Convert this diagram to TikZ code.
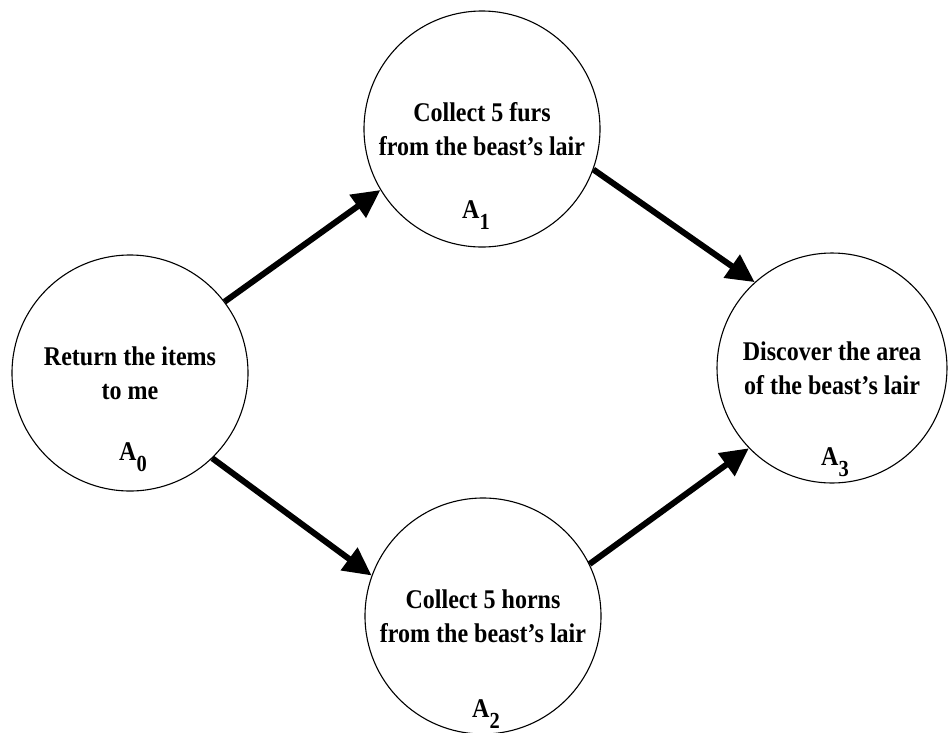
\documentclass[tikz,border=0pt]{standalone}
\usepackage{fontspec}
\setmainfont{Liberation Serif}[FakeStretch=0.89]
\usetikzlibrary{arrows.meta}

\tikzset{
  quest/.style={draw, circle, line width=1.1pt, minimum size=236pt,
    inner sep=2pt, align=center,
    font=\fontsize{27}{34}\selectfont\bfseries},
  tag/.style={anchor=base, inner sep=0pt,
    font=\fontsize{27}{27}\selectfont\bfseries},
  dep/.style={-{Triangle[length=28pt,width=27pt]}, line width=6pt}
}
% lowered index digit of a quest tag
\newcommand{\qidx}[1]{\raisebox{-11pt}{\fontsize{23}{23}\selectfont #1}}

\begin{document}
\begin{tikzpicture}[x=1pt,y=-1pt] % y down, one unit = one pixel
  \useasboundingbox (0,0) rectangle (948,732);

  % the four quests
  \node[quest] (a0) at (130,373) {Return the items\\to me};
  \node[quest] (a1) at (482,129) {Collect 5 furs\\from the beast’s lair};
  \node[quest] (a2) at (483,616) {Collect 5 horns\\from the beast’s lair};
  \node[quest, minimum size=230pt] (a3) at (832,368)
    {Discover the area\\of the beast’s lair};

  % tags
  \node[tag] (t0) at (133,460) {A\qidx{0}};
  \node[tag] (t1) at (476,218) {A\qidx{1}};
  \node[tag] (t2) at (486,717) {A\qidx{2}};
  \node[tag] (t3) at (835,465) {A\qidx{3}};

  % dependencies
  \draw[dep] (a0.37) -- (a1.211);
  \draw[dep] (a0.-46) -- (a2.160);
  \draw[dep] (a1.-20) -- (a3.132);
  \draw[dep] (a2.26) -- (a3.224);
\end{tikzpicture}
\end{document}
